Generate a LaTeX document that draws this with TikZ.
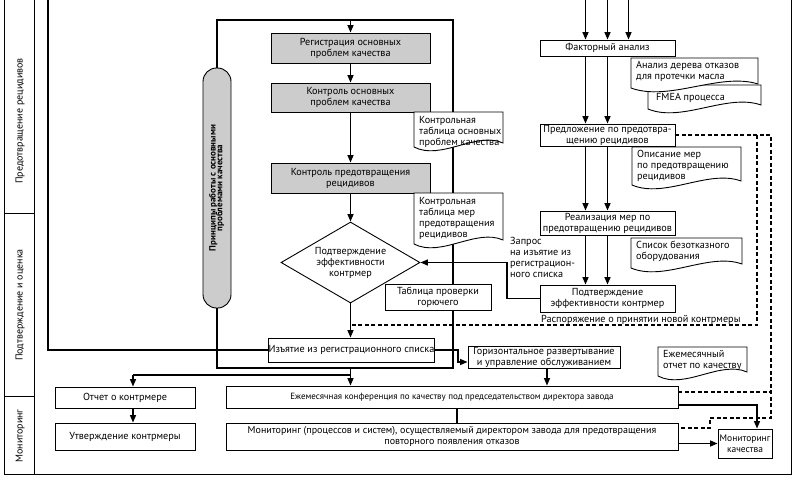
\documentclass[tikz,border=0pt]{standalone}
\usepackage{fontspec}
\setmainfont{PT Sans}
\usetikzlibrary{shapes.geometric,arrows.meta,backgrounds,calc}
\tikzset{
 base/.style={font=\fontsize{10.2}{11}\selectfont},
 box/.style={base,draw,line width=0.9pt,fill=white,align=center,inner sep=0pt},
 gbox/.style={box,fill=gray!40},
 ln/.style={line width=1.4pt},
 arr/.style={ln,-{Triangle[length=7.5pt,width=6pt]}},
 dsh/.style={line width=1.1pt,dash pattern=on 4pt off 2.5pt},
 frame/.style={line width=1pt},
 lane/.style={rotate=90,font=\fontsize{10}{11}\selectfont},
 doctext/.style={base,anchor=north west,align=left,inner sep=0pt},
}
\newcommand\docshape[4]{%
 \filldraw[fill=white,line width=0.9pt] (#1,#4+4) -- (#1,#2) -- (#3,#2) -- (#3,#4)
   .. controls ({#1+0.7*(#3-#1)},#4-12) and ({#1+0.3*(#3-#1)},#4+18) .. (#1,#4+4) -- cycle;}
\begin{document}
\begin{tikzpicture}[x=1pt,y=-1pt]
\useasboundingbox (0,0) rectangle (800,482);
% frame and lanes
\draw[frame] (4,0) -- (4,474) -- (791,474) -- (791,0);
\draw[frame] (34,0) -- (34,474);
\draw[frame] (4,213) -- (34,213);
\draw[frame] (4,396) -- (34,396);
\node[lane] (l1) at (20,121) {Предотвращение рецидивов};
\node[lane] (l2) at (20,305) {Подтверждение и оценка};
\node[lane] (l3) at (20,436) {Мониторинг};

% left flow
\node[gbox, minimum width=159pt, minimum height=30pt] (b1) at (350.5,48) {Регистрация основных\\проблем качества};
\node[gbox, minimum width=159pt, minimum height=29pt] (b2) at (350.5,97.5) {Контроль основных\\проблем качества};
\node[gbox, minimum width=159pt, minimum height=30pt] (b3) at (350.5,178) {Контроль предотвращения\\рецидивов};
\node[draw, line width=0.9pt, fill=gray!40, rounded corners=13.5pt, minimum width=28pt, minimum height=240pt, inner sep=0pt] (cap) at (217,188)
  {\rotatebox{90}{\fontsize{9}{9}\selectfont\bfseries\begin{tabular}{@{}c@{}}Принципы работы с основными\\[-2.5pt]проблемами качества\end{tabular}}};
\node[diamond, draw, line width=0.9pt, fill=white, aspect=1.7, minimum width=139pt, minimum height=81pt, inner sep=0pt, align=center, base] (dia) at (350.5,262.5) {Подтверждение\\эффективности\\контрмер};
\node[box, minimum width=106pt, minimum height=26pt] (tp) at (438,297) {Таблица проверки\\горючего};
\node[box, minimum width=163pt, minimum height=24pt] (iz) at (351.5,350) {Изъятие из регистрационного списка};

% documents of the left flow
\docshape{414}{112}{503}{143}
\node[doctext] (d1) at (419,116) {Контрольная\\таблица основных\\проблем качества};
\docshape{414}{193}{503}{240}
\node[doctext] (d2) at (419,197) {Контрольная\\таблица мер\\предотвращения\\рецидивов};

% right flow
\node[box, minimum width=135pt, minimum height=16pt] (fa) at (607.5,48) {Факторный анализ};
\node[box, minimum width=135pt, minimum height=22pt] (pr) at (607.5,135) {Предложение по предотвра-\\щению рецидивов};
\node[box, minimum width=135pt, minimum height=24pt] (re) at (607.5,223) {Реализация мер по\\предотвращению рецидивов};
\node[box, minimum width=135pt, minimum height=27pt] (pe) at (607.5,298.5) {Подтверждение\\эффективности контрмер};
\docshape{648}{85}{761}{105}
\node[doctext, anchor=west] (dF) at (656,98) {FMEA процесса};
\docshape{631}{58}{758}{84}
\node[doctext] (dA) at (636,61) {Анализ дерева отказов\\для протечки масла};
\docshape{632}{147}{741}{181}
\node[doctext] (dO) at (637,150) {Описание мер\\по предотвращению\\рецидивов};
\docshape{631}{238}{742}{264}
\node[doctext] (dS) at (636,241) {Список безотказного\\оборудования};
\node[doctext] (zq) at (510,237) {Запрос\\на изъятие из\\регистрацион-\\ного списка};
\node[base, anchor=west, inner sep=0pt] (rs) at (541,320) {Распоряжение о принятии новой контрмеры};

% bottom
\node[box, minimum width=152pt, minimum height=22pt] (hz) at (544,357) {Горизонтальное развертывание\\и управление обслуживанием};
\docshape{658}{347}{747}{372}
\node[doctext] (dE) at (663,350) {Ежемесячный\\отчет по качеству};
\node[box, minimum width=140pt, minimum height=21pt] (ot) at (125,397.5) {Отчет о контрмере};
\node[box, minimum width=140pt, minimum height=27pt] (ut) at (125,436.5) {Утверждение контрмеры};
\node[box, minimum width=452pt, minimum height=22pt, font=\fontsize{9}{11}\selectfont] (ej) at (452,397) {Ежемесячная конференция по качеству под председательством директора завода};
\node[box, minimum width=452pt, minimum height=27pt, font=\fontsize{10}{11}\selectfont] (mon) at (452,436.5) {Мониторинг (процессов и систем), осуществляемый директором завода для предотвращения\\повторного появления отказов};
\node[box, minimum width=54pt, minimum height=29pt, font=\fontsize{9.5}{11}\selectfont] (mk) at (745,443.5) {Мониторинг\\качества};

% coordinates
\coordinate (tl) at (350.5,20);
\coordinate (tr) at (453,20);
\coordinate (jr) at (453,368);
\coordinate (j) at (350.5,368);
\coordinate (jl) at (350.5,375);
\coordinate (jo) at (133,375);
\coordinate (in) at (48,0);
\coordinate (izr) at (458,350);
\coordinate (t1) at (585.5,0);
\coordinate (t2) at (607.5,0);
\coordinate (t3) at (628.5,0);
\coordinate (pk) at (507,298.5);
\coordinate (da) at (771,135);
\coordinate (db) at (771,418);
\coordinate (dc) at (710,418);
\coordinate (dd) at (710,428);
\coordinate (di) at (757,135);
\coordinate (dj) at (757,325);
\coordinate (dk) at (350.5,325);

\begin{scope}[on background layer]
\draw[ln] (cap.north) |- (tr) -- (jr) -- (j);
\end{scope}
\draw[arr] (tl) -- (b1.north);
\draw[arr] (b1) -- (b2);
\draw[arr] (b2) -- (b3);
\draw[arr] (b3) -- (dia);
\draw[arr] (dia) -- (dia |- iz.north);
\draw[ln] (cap.south) |- (j);
\draw[arr] (j) -- (j |- ej.north);
\draw[ln] (jl) -- (jo);
\draw[arr] (jo) -- (jo |- ot.north);
\draw[arr] (jo |- ot.south) -- (jo |- ut.north);
\draw[ln] (in) |- (iz.west);
\draw[arr] (iz.east) -- (izr) |- ([yshift=-5pt]hz.west);
\draw[arr] ([xshift=3pt]hz.south) -- ([xshift=3pt]hz.south |- ej.north);
\draw[ln] ([xshift=5pt]ej.south) -- ([xshift=5pt]mon.north);
\draw[arr] ([yshift=-8pt]ej.east) -| ([xshift=12pt]mk.north);
\draw[arr] (mon.east |- mk.west) -- (mk.west);

\draw[arr] (t1) -- (t1 |- fa.north);
\draw[arr] (t2) -- (t2 |- fa.north);
\draw[arr] (t3) -- (t3 |- fa.north);
\draw[arr] ([xshift=-22pt]fa.south) -- ([xshift=-22pt]pr.north);
\draw[arr] (fa) -- (pr);
\draw[arr] ([xshift=-22pt]pr.south) -- ([xshift=-22pt]re.north);
\draw[arr] (pr) -- (re);
\draw[arr] ([xshift=-22pt]re.south) -- ([xshift=-22pt]pe.north);
\draw[arr] (re) -- (pe);
\draw[arr] (pe.west) -- (pk) |- (dia.east);

\draw[dsh] (pr.east) -- (da) -- (db) -- (dc) -- (dd) -- (dd -| mon.east);
\draw[dsh] ([yshift=5pt]ej.east) -- ([yshift=5pt]ej.east -| da);
\draw[dsh] (di) -- (dj) -- (dk);
\end{tikzpicture}
\end{document}
